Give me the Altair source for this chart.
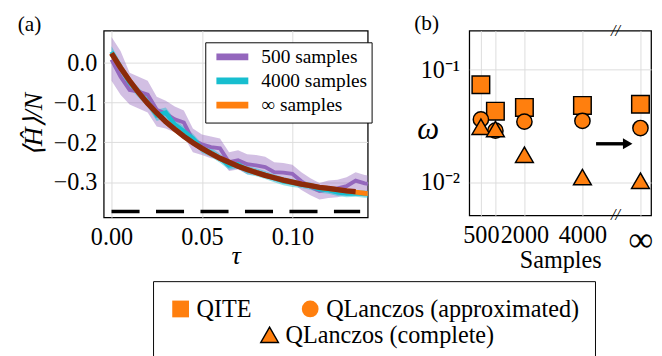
import altair as alt
import pandas as pd

# ---------------- data: panel (a) ----------------
tau = [0.000, 0.005, 0.010, 0.015, 0.020, 0.025, 0.030, 0.035, 0.040, 0.045,
       0.050, 0.055, 0.060, 0.065, 0.070, 0.075, 0.080, 0.085, 0.090, 0.095,
       0.100, 0.105, 0.110, 0.115, 0.120, 0.125, 0.130, 0.135, 0.140, 0.145]

e500 = [0.008, -0.035, -0.068, -0.072, -0.080, -0.118, -0.128, -0.142, -0.150, -0.195,
        -0.205, -0.212, -0.215, -0.250, -0.245, -0.255, -0.258, -0.262, -0.275, -0.276,
        -0.279, -0.298, -0.312, -0.322, -0.318, -0.316, -0.310, -0.296, -0.303, -0.306]
e500_hi = [0.065, 0.030, -0.025, -0.035, -0.045, -0.085, -0.095, -0.110, -0.120, -0.165,
           -0.180, -0.185, -0.190, -0.225, -0.220, -0.230, -0.232, -0.236, -0.250, -0.252,
           -0.256, -0.275, -0.290, -0.302, -0.296, -0.294, -0.288, -0.275, -0.282, -0.285]
e500_lo = [-0.045, -0.080, -0.105, -0.115, -0.125, -0.160, -0.165, -0.175, -0.185, -0.225,
           -0.232, -0.240, -0.242, -0.272, -0.268, -0.280, -0.283, -0.287, -0.298, -0.300,
           -0.303, -0.320, -0.333, -0.344, -0.340, -0.338, -0.332, -0.318, -0.324, -0.327]

e4000 = [0.028, -0.012, -0.050, -0.075, -0.098, -0.132, -0.125, -0.155, -0.172, -0.190,
         -0.215, -0.225, -0.240, -0.258, -0.255, -0.270, -0.275, -0.282, -0.290, -0.298,
         -0.302, -0.306, -0.310, -0.318, -0.320, -0.326, -0.329, -0.328, -0.330, -0.331]
e4000_hi = [0.042, 0.002, -0.037, -0.062, -0.085, -0.118, -0.112, -0.142, -0.160, -0.178,
            -0.203, -0.213, -0.229, -0.247, -0.244, -0.259, -0.265, -0.272, -0.280, -0.288,
            -0.292, -0.297, -0.301, -0.309, -0.311, -0.317, -0.320, -0.319, -0.321, -0.322]
e4000_lo = [0.014, -0.026, -0.063, -0.088, -0.111, -0.146, -0.138, -0.168, -0.184, -0.202,
            -0.227, -0.237, -0.251, -0.269, -0.266, -0.281, -0.285, -0.292, -0.300, -0.308,
            -0.312, -0.315, -0.319, -0.327, -0.329, -0.335, -0.338, -0.337, -0.339, -0.340]

e_inf = [0.024, -0.012, -0.045, -0.075, -0.102, -0.126, -0.148, -0.167, -0.185, -0.201,
         -0.215, -0.228, -0.240, -0.250, -0.260, -0.268, -0.276, -0.283, -0.289, -0.295,
         -0.300, -0.305, -0.309, -0.313, -0.316, -0.319, -0.322, -0.325, -0.328, -0.330]

tau_exact = [0.000, 0.005, 0.010, 0.015, 0.020, 0.025, 0.030, 0.035, 0.040, 0.045,
             0.050, 0.055, 0.060, 0.065, 0.070, 0.075, 0.080, 0.085, 0.090, 0.095,
             0.100, 0.105, 0.110, 0.115, 0.120, 0.125, 0.130, 0.135]
e_exact = [0.024, -0.012, -0.045, -0.075, -0.102, -0.126, -0.148, -0.167, -0.185, -0.201,
           -0.215, -0.228, -0.240, -0.250, -0.260, -0.268, -0.276, -0.283, -0.289, -0.295,
           -0.300, -0.305, -0.309, -0.313, -0.316, -0.319, -0.322, -0.324]

ground_energy = -0.374
ground_tau = [0.0, 0.1375]

series_names = ["500 samples", "4000 samples", "∞ samples"]

# ---------------- data: panel (b) ----------------
samples = [500, 1000, 2000, 4000, 6000]          # 6000 stands for "∞"
sample_ticks = [500, 1000, 2000, 4000, 6000]
omega_qite = [0.073, 0.0426, 0.046, 0.0479, 0.049]
omega_approx = [0.036, 0.0286, 0.0344, 0.0349, 0.0302]
omega_complete = [0.031, 0.0296, 0.0175, 0.0111, 0.0103]
methods = ["QITE", "QLanczos (approximated)", "QLanczos (complete)"]
arrow_x = [4470, 5420]
arrow_head_x = [5560]
arrow_y = 0.0219
break_x = [5140]

# ---------------- style ----------------
FONT = "Liberation Serif"
PURPLE, CYAN, ORANGE, DARKRED = "#9467bd", "#17becf", "#ff7f0e", "#8b2a0b"
W_A, H_A = 273, 193
W_B, H_B = 188, 191

# ---------------- panel (a) ----------------
band_df = pd.DataFrame({"tau": tau, "lo500": e500_lo, "hi500": e500_hi,
                        "lo4000": e4000_lo, "hi4000": e4000_hi})
l500 = pd.DataFrame({"tau": tau, "E": e500, "series": series_names[0]})
l4000 = pd.DataFrame({"tau": tau, "E": e4000, "series": series_names[1]})
linf = pd.DataFrame({"tau": tau, "E": e_inf, "series": series_names[2]})
lex = pd.DataFrame({"tau": tau_exact, "E": e_exact})
gs_df = pd.DataFrame({"tau": [ground_tau[0]], "tau_end": [ground_tau[1]], "E": [ground_energy]})

x_scale_a = alt.Scale(domain=[-0.0043, 0.1417], nice=False, zero=False)
y_scale_a = alt.Scale(domain=[-0.3886, 0.081], nice=False, zero=False)
x_axis_a = alt.Axis(values=[0, 0.05, 0.1], format=".2f", title="τ", titleFontStyle="italic",
                    titleFontSize=27, titlePadding=-6, labelPadding=8)
y_axis_a = alt.Axis(values=[0, -0.1, -0.2, -0.3], format=".1f", title="⟨Ĥ⟩/N",
                    titleFontSize=27, titleFontStyle="italic", titlePadding=6, labelPadding=7)

def xa(field="tau"):
    return alt.X(f"{field}:Q", scale=x_scale_a, axis=x_axis_a)

def ya(field="E"):
    return alt.Y(f"{field}:Q", scale=y_scale_a, axis=y_axis_a)

# legend positions below are relative to the plot origin of panel (a)
color_enc = alt.Color(
    "series:N",
    scale=alt.Scale(domain=series_names, range=[PURPLE, CYAN, ORANGE]),
    legend=alt.Legend(title=None, orient="none", legendX=105, legendY=12,
                      symbolType="M-2.2,0L2.2,0", symbolStrokeWidth=7, symbolSize=225,
                      symbolOffset=13, labelFont=FONT, labelFontSize=20, labelOffset=19,
                      labelLimit=300, strokeColor="black", fillColor="white", padding=4,
                      rowPadding=-6, cornerRadius=0),
)

band500 = alt.Chart(band_df).mark_area(color=PURPLE, opacity=0.42, clip=True).encode(
    x=xa(), y=ya("lo500"), y2="hi500")
band4000 = alt.Chart(band_df).mark_area(color=CYAN, opacity=0.45, clip=True).encode(
    x=xa(), y=ya("lo4000"), y2="hi4000")
line500 = alt.Chart(l500).mark_line(strokeWidth=4, clip=True).encode(x=xa(), y=ya(), color=color_enc)
line4000 = alt.Chart(l4000).mark_line(strokeWidth=4.5, clip=True).encode(x=xa(), y=ya(), color=color_enc)
lineinf = alt.Chart(linf).mark_line(strokeWidth=5, clip=True).encode(x=xa(), y=ya(), color=color_enc)
lineex = alt.Chart(lex).mark_line(strokeWidth=5.5, color=DARKRED, clip=True).encode(x=xa(), y=ya())
gsline = alt.Chart(gs_df).mark_rule(color="black", strokeWidth=3.5, strokeDash=[29, 17]).encode(
    x=xa(), x2="tau_end", y=ya())

panel_a = alt.layer(band500, band4000, line500, line4000, lineinf, lineex, gsline).properties(
    width=W_A, height=H_A,
    title=alt.TitleParams("(a)", anchor="start", frame="group", dx=-89, offset=-5, fontSize=22,
                          font=FONT, fontWeight="normal"))

# ---------------- panel (b) ----------------
df_sq = pd.DataFrame({"samples": samples, "omega": omega_qite, "method": methods[0]})
df_ci = pd.DataFrame({"samples": samples, "omega": omega_approx, "method": methods[1]})
df_tr = pd.DataFrame({"samples": samples, "omega": omega_complete, "method_c": methods[2]})
arrow_df = pd.DataFrame({"samples": [arrow_x[0]], "samples_end": [arrow_x[1]], "omega": [arrow_y]})
head_df = pd.DataFrame({"samples": arrow_head_x, "omega": [arrow_y]})
break_df = pd.DataFrame({"samples": break_x})

x_scale_b = alt.Scale(domain=[100, 6367], nice=False, zero=False)
y_scale_b = alt.Scale(type="log", domain=[0.00508, 0.22], nice=False)
x_axis_b = alt.Axis(values=sample_ticks, format="d", title="Samples", labelOverlap=False,
                    labelFlush=False, labelPadding=8, titlePadding=-9, titleFontSize=25,
                    labelExpr="datum.value == 6000 ? '∞' : (datum.value == 1000 ? '' : datum.label)",
                    labelFontSize={"condition": {"test": "datum.value == 6000", "value": 36}, "value": 25})
y_axis_b = alt.Axis(values=[0.01, 0.1], title="ω", titleAngle=0, titleFontSize=32,
                    titleFontStyle="italic", titleX=-43, titleY=102, titleAlign="center",
                    titleBaseline="middle", labelPadding=10,
                    labelExpr="datum.value > 0.05 ? '10⁻¹' : '10⁻²'")

def xb(field="samples"):
    return alt.X(f"{field}:Q", scale=x_scale_b, axis=x_axis_b)

def yb(field="omega"):
    return alt.Y(f"{field}:Q", scale=y_scale_b, axis=y_axis_b)

shape_enc = alt.Shape(
    "method:N",
    scale=alt.Scale(domain=methods[:2], range=["square", "circle"]),
    legend=alt.Legend(title=[" ", " "], titleOrient="bottom", titleFontSize=22, titlePadding=0,
                      orient="none", legendX=51, legendY=259, columns=2, columnPadding=48,
                      symbolSize=300, symbolFillColor=ORANGE, symbolStrokeColor="black",
                      symbolStrokeWidth=1.5, symbolOpacity=1, labelFont=FONT, labelFontSize=25,
                      labelOffset=4, labelLimit=400, strokeColor="black", padding=16,
                      cornerRadius=0),
)
fill_enc = alt.Fill(
    "method_c:N",
    scale=alt.Scale(domain=[methods[2]], range=[ORANGE]),
    legend=alt.Legend(title=None, orient="none", legendX=159, legendY=302, padding=0,
                      symbolType="triangle-up", symbolSize=330, symbolFillColor=ORANGE,
                      symbolStrokeColor="black", symbolStrokeWidth=1.5, symbolOpacity=1,
                      labelFont=FONT, labelFontSize=25, labelOffset=4, labelLimit=400),
)

pts_sq = alt.Chart(df_sq).mark_point(filled=True, fill=ORANGE, stroke="black", strokeWidth=1.5,
                                     size=330, opacity=1).encode(x=xb(), y=yb(), shape=shape_enc)
pts_ci = alt.Chart(df_ci).mark_point(filled=True, fill=ORANGE, stroke="black", strokeWidth=1.5,
                                     size=250, opacity=1).encode(x=xb(), y=yb(), shape=shape_enc)
pts_tr = alt.Chart(df_tr).mark_point(filled=True, shape="triangle-up", size=340, stroke="black",
                                     strokeWidth=1.5, opacity=1).encode(x=xb(), y=yb(), fill=fill_enc)
arrow_line = alt.Chart(arrow_df).mark_rule(color="black", strokeWidth=3.5).encode(
    x=xb(), x2="samples_end", y=yb())
arrow_head = alt.Chart(head_df).mark_point(shape="triangle-right", size=130, filled=True,
                                           color="black", opacity=1).encode(x=xb(), y=yb())
gap_top = alt.Chart(break_df).mark_text(text="//", font=FONT, fontSize=17, fontStyle="italic").encode(
    x=xb(), y=alt.value(0))
gap_bot = alt.Chart(break_df).mark_text(text="//", font=FONT, fontSize=17, fontStyle="italic").encode(
    x=xb(), y=alt.value(H_B))

panel_b = alt.layer(pts_sq, pts_ci, pts_tr, arrow_line, arrow_head, gap_top, gap_bot).properties(
    width=W_B, height=H_B,
    title=alt.TitleParams("(b)", anchor="start", frame="group", dx=-57, offset=-13.5, fontSize=22,
                          font=FONT, fontWeight="normal"))

chart = alt.hconcat(panel_a, panel_b, spacing=46).properties(
    padding={"left": 9, "top": -3, "right": 0, "bottom": 0}
).configure_view(
    stroke="black", strokeWidth=1.3
).configure_axis(
    labelFont=FONT, titleFont=FONT, labelFontSize=25, titleFontWeight="normal",
    labelColor="black", titleColor="black", domain=False, ticks=False,
    grid=True, gridColor="#dcdcdc", gridWidth=1
)

chart.save("out.html", embed_options={"renderer": "svg", "actions": False})
